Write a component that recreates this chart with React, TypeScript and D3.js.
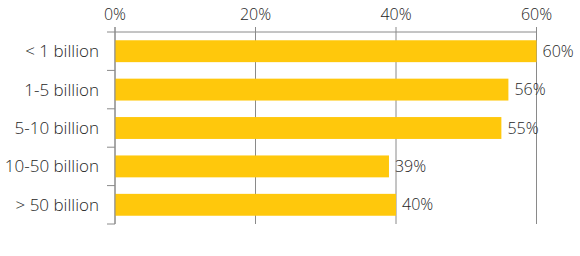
import React from "react";
import * as d3 from "d3";

const categories = ["< 1 billion", "1-5 billion", "5-10 billion", "10-50 billion", "> 50 billion"];
const values = [60, 56, 55, 39, 40];
const tickValues = [0, 20, 40, 60];

const W = 580;
const H = 256;
const FONT = "'Open Sans', sans-serif";

export default function App() {
  const x = d3.scaleLinear().domain([0, 60]).range([115, 536.5]);
  const y = d3.scaleBand<string>().domain(categories).range([32, 224]).paddingInner(0.43).paddingOuter(0.215);
  const step = y.step();
  const top = 32;
  const bottom = 224;
  const boundaries = categories.map((_, i) => top + step * (i + 1));
  const grey = "#8a8a8a";
  const textColor = "#262626";

  return (
    <svg width={W} height={H} style={{ position: "absolute", left: 0, top: 0, background: "#fff" }}>
      {tickValues.map((t) => (
        <line key={"g" + t} x1={x(t)} x2={x(t)} y1={27} y2={bottom} stroke={grey} strokeWidth={1} />
      ))}
      <line x1={107} x2={x(60)} y1={top} y2={top} stroke={grey} strokeWidth={1} />
      {boundaries.map((b, i) => (
        <line key={"t" + i} x1={107} x2={x(0)} y1={b} y2={b} stroke={grey} strokeWidth={1} />
      ))}
      {categories.map((c, i) => (
        <rect key={c} x={x(0)} y={y(c)} width={x(values[i]) - x(0)} height={y.bandwidth()} fill="#FFC80C" />
      ))}
      <line x1={x(0)} x2={x(0)} y1={27} y2={bottom} stroke={grey} strokeWidth={1} />
      {tickValues.map((t) => (
        <text key={"l" + t} x={x(t)} y={20} textAnchor="middle" fontFamily={FONT} fontWeight={300} fontSize={16} fill={textColor}>
          {t + "%"}
        </text>
      ))}
      {categories.map((c) => (
        <text key={"c" + c} x={99} y={(y(c) as number) + y.bandwidth() / 2} dy="0.35em" textAnchor="end" fontFamily={FONT} fontWeight={300} fontSize={17} fill={textColor}>
          {c}
        </text>
      ))}
      {categories.map((c, i) => (
        <text key={"v" + c} x={x(values[i]) + 6} y={(y(c) as number) + y.bandwidth() / 2} dy="0.35em" fontFamily={FONT} fontWeight={300} fontSize={16} fill={textColor}>
          {values[i] + "%"}
        </text>
      ))}
    </svg>
  );
}
